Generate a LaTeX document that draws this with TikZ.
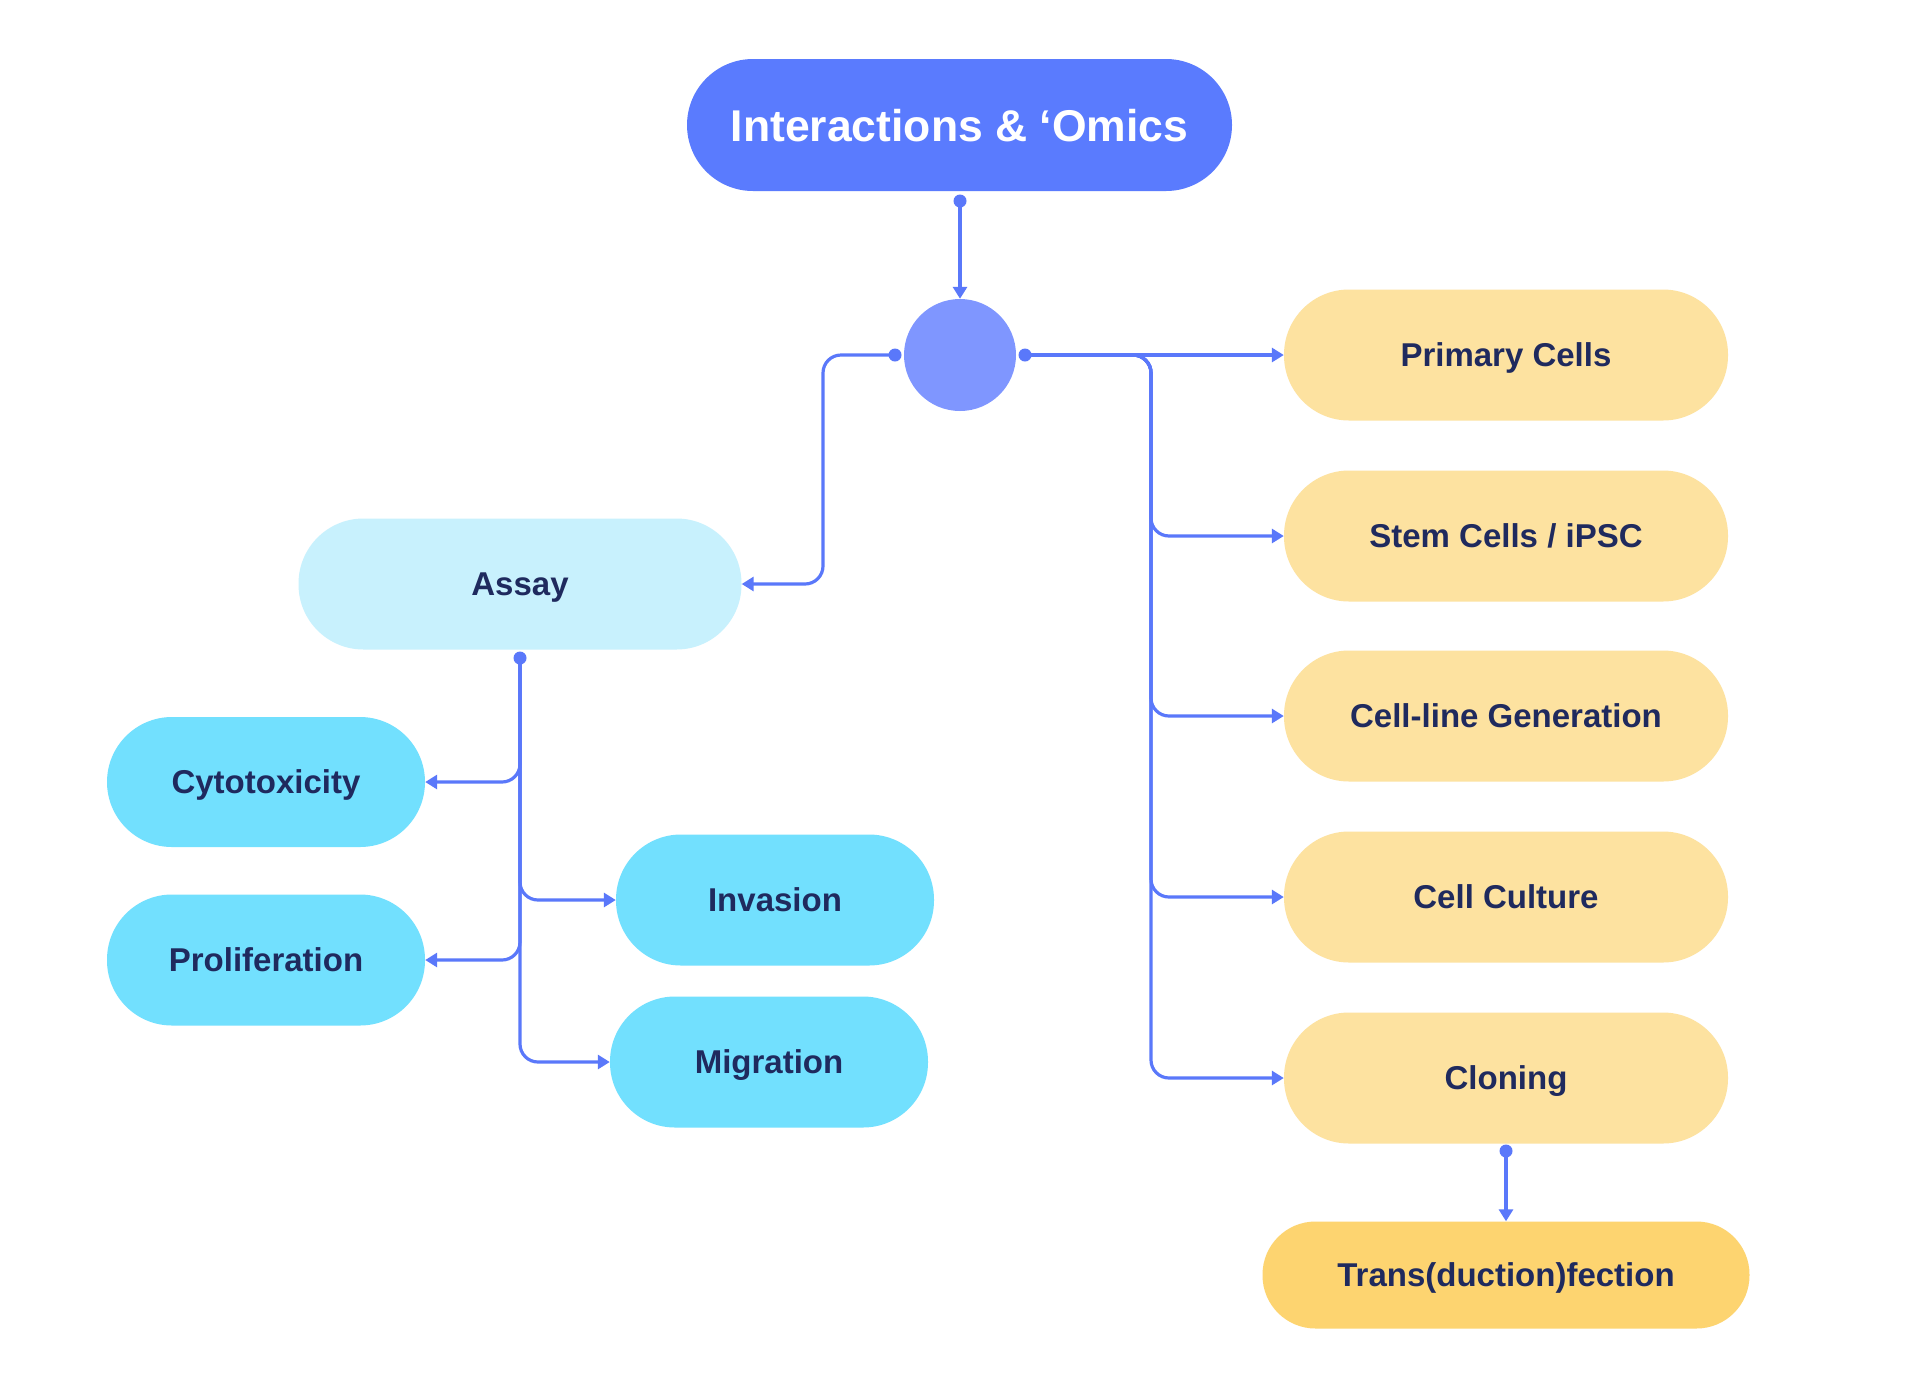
\documentclass[tikz,border=0pt]{standalone}
\usepackage{fontspec}
\setmainfont{Liberation Sans}
\usetikzlibrary{arrows.meta}
\definecolor{topblue}{HTML}{5A7BFE}
\definecolor{hubblue}{HTML}{7F96FF}
\definecolor{lineblue}{HTML}{5A78FA}
\definecolor{assaycol}{HTML}{C8F1FD}
\definecolor{cyancol}{HTML}{72E0FE}
\definecolor{yellcol}{HTML}{FDE2A0}
\definecolor{transcol}{HTML}{FDD470}
\definecolor{navy}{HTML}{1F2A5E}
\tikzset{
  pill/.style={rectangle, draw=none, inner sep=0pt, text depth=0pt, rounded corners=65pt, minimum height=131pt, text=navy, font=\fontsize{33}{40}\selectfont\bfseries},
  dotc/.style={circle, fill=lineblue, inner sep=0pt, minimum size=13pt},
  conn/.style={draw=lineblue, line width=3.2pt, rounded corners=18pt, -{Triangle[length=12pt,width=14pt]}},
}
\begin{document}
\begin{tikzpicture}[x=1pt,y=-1pt]
\useasboundingbox[fill=white] (0,0) rectangle (1920,1393);
% top
\node[pill, fill=topblue, text=white, minimum width=545pt, minimum height=132pt, rounded corners=66pt, font=\fontsize{44.5}{52}\selectfont\bfseries] (top) at (959.5,125) {Interactions \& ‘Omics};
\node[circle, fill=hubblue, inner sep=0pt, minimum size=112pt] (hub) at (960,355) {};
\node[dotc] (tdot) at (960,201) {};
\node[dotc] (ldot) at (895,355) {};
\node[dotc] (rdot) at (1025,355) {};
% right column
\node[pill, fill=yellcol, minimum width=444pt] (prim) at (1506,355) {Primary Cells};
\node[pill, fill=yellcol, minimum width=444pt] (stem) at (1506,536) {Stem Cells / iPSC};
\node[pill, fill=yellcol, minimum width=444pt] (cline) at (1506,716) {Cell-line Generation};
\node[pill, fill=yellcol, minimum width=444pt] (cult) at (1506,897) {Cell Culture};
\node[pill, fill=yellcol, minimum width=444pt] (clon) at (1506,1078) {Cloning};
\node[pill, fill=transcol, minimum width=487pt, minimum height=107pt, rounded corners=53pt] (trans) at (1506,1275) {Trans(duction)fection};
\node[dotc] (cdot) at (1506,1151) {};
% left
\node[pill, fill=assaycol, minimum width=443pt] (assay) at (520,584) {Assay};
\node[dotc] (adot) at (520,658) {};
\node[pill, fill=cyancol, minimum width=318pt, minimum height=130pt] (cyto) at (266,782) {Cytotoxicity};
\node[pill, fill=cyancol, minimum width=318pt] (prol) at (266,960) {Proliferation};
\node[pill, fill=cyancol, minimum width=318pt] (inv) at (775,900) {Invasion};
\node[pill, fill=cyancol, minimum width=318pt] (mig) at (769,1062) {Migration};
% connectors
\coordinate (lbend) at (823,355);
\coordinate (rt) at (1151,355);
\draw[conn] (tdot.center) -- (hub.north);
\draw[conn] (ldot.center) -- (lbend) |- (assay.east);
\draw[conn] (rdot.center) -- (prim.west);
\draw[conn] (rdot.center) -- (rt) |- (stem.west);
\draw[conn] (rdot.center) -- (rt) |- (cline.west);
\draw[conn] (rdot.center) -- (rt) |- (cult.west);
\draw[conn] (rdot.center) -- (rt) |- (clon.west);
\draw[conn] (cdot.center) -- (trans.north);
\draw[conn] (adot.center) |- (cyto.east);
\draw[conn] (adot.center) |- (prol.east);
\draw[conn] (adot.center) |- (inv.west);
\draw[conn] (adot.center) |- (mig.west);
\end{tikzpicture}
\end{document}
